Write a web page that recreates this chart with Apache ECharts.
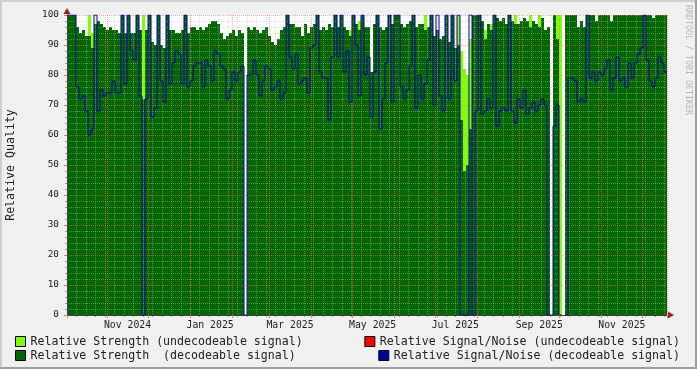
<!DOCTYPE html>
<html><head><meta charset="utf-8">
<script src="https://cdn.jsdelivr.net/npm/echarts@6/dist/echarts.min.js"></script>
<style>html,body{margin:0;padding:0;background:#F0F0F0}#c{width:697px;height:369px}</style>
</head><body><div id="c"></div>
<script>
// time span of the plot (start, length in days) and column count
const START = Date.UTC(2024, 9, 2, 8);
const SPAN_DAYS = 443;
const NCOL = 200;
const MONTHS = ['Jan','Feb','Mar','Apr','May','Jun','Jul','Aug','Sep','Oct','Nov','Dec'];
const LABEL_MONTHS = [0, 2, 4, 6, 8, 10];

// Relative Strength (decodeable signal)
const strengthDec = [100,100,100,96,94,95,93,93,89,97,98,97,96,95,96,95,95,94,100,94,
100,94,94,100,95,72,95,100,91,90,100,90,89,100,95,95,94,94,95,100,
94,96,96,95,96,95,96,97,98,98,97,94,92,93,94,95,93,95,94,null,
96,95,96,95,94,95,96,93,91,90,92,95,96,100,97,97,96,96,93,97,
94,96,97,100,95,96,95,97,96,100,96,100,96,95,93,100,97,95,100,96,
96,81,97,100,96,95,96,100,97,100,100,97,96,97,98,100,96,97,97,95,
96,100,93,95,92,93,100,91,100,89,90,65,48,50,62,100,100,100,98,92,
97,95,100,99,98,99,97,100,98,97,97,98,99,98,96,98,97,96,99,95,
96,null,100,92,null,null,100,100,100,100,96,98,96,100,100,100,98,100,100,100,
100,98,100,100,100,100,100,100,100,100,100,100,100,100,100,99,100,100,100,100];

// Relative Strength (undecodeable signal)
const strengthUndec = [null,null,null,null,null,null,null,100,94,null,null,null,null,null,null,null,null,null,null,null,
null,null,null,null,null,100,null,null,null,null,null,null,null,null,null,null,null,null,null,null,
null,null,null,null,null,null,null,null,null,null,null,null,null,null,null,null,null,null,null,null,
null,null,null,null,null,null,null,null,null,null,null,null,null,null,null,null,null,null,null,null,
null,null,null,null,null,null,null,null,null,null,null,null,null,null,95,null,null,98,null,null,
null,null,null,null,null,null,null,null,null,null,null,null,null,null,null,null,null,null,null,100,
null,null,null,null,null,null,null,null,null,null,100,88,82,80,92,null,null,null,null,95,
null,97,null,null,null,null,null,null,null,100,null,null,null,null,100,null,null,100,null,null,
null,null,null,100,100,null,null,null,null,null,null,null,null,null,null,null,null,null,null,null,
null,null,null,null,null,null,null,null,null,null,null,null,null,null,null,null,null,null,null,null];

// Relative Signal/Noise (decodeable signal)
const snrDec = [100,100,100,76,72,73,68,60,62,100,68,75,73,74,74,78,74,74,100,77,
100,88,85,100,73,0,72,100,66,69,100,78,71,100,77,84,88,87,77,100,
76,78,83,84,84,76,85,83,78,88,87,83,82,72,75,81,78,81,83,0,
80,80,85,80,73,78,83,82,75,76,78,72,74,100,86,82,87,77,78,79,
74,89,90,100,81,79,79,65,86,100,86,100,81,88,71,100,90,73,100,80,
86,66,81,100,62,72,84,100,71,100,100,76,72,75,83,100,69,80,72,77,
85,100,70,100,73,68,100,72,100,78,100,0,0,0,100,0,68,100,67,68,
72,69,100,63,68,69,68,100,68,64,72,69,75,67,69,71,68,70,72,70,
0,0,63,70,0,null,0,79,79,78,71,72,71,100,79,81,78,81,80,82,
85,75,79,86,78,79,76,84,79,84,87,89,100,85,78,76,79,86,84,81];

// Relative Signal/Noise (undecodeable signal): no visible values
const snrUndec = [];

const DAY = 86400000;
const END = START + SPAN_DAYS * DAY;
const colMs = (END - START) / NCOL;
// each consolidated value covers its whole time column: give it the column's start and end times
const column = arr => arr.flatMap((v, i) => [[START + i * colMs, v], [START + (i + 1) * colMs, v]]);

const FONT = 'DejaVu Sans Mono';
const MINOR = 'rgba(192,192,192,0.45)';
const MAJOR = 'rgba(255,110,110,0.55)';

const chart = echarts.init(document.getElementById('c'), null, {renderer: 'canvas'});
chart.setOption({
  animation: false,
  backgroundColor: '#F0F0F0',
  grid: {left: 67, right: 30, top: 15, bottom: 54, show: true, backgroundColor: '#ffffff', borderWidth: 0,
    containLabel: false, outerBoundsMode: 'none'},
  xAxis: [
    { // data axis
      type: 'time', position: 'bottom', min: START, max: END, splitNumber: 14, z: 5,
      axisLine: {show: true, lineStyle: {color: '#404040', width: 1}},
      axisTick: {show: true, length: 3, lineStyle: {color: '#d08080'}},
      axisLabel: {show: false},
      splitLine: {show: true, lineStyle: {color: MAJOR, type: [1, 1], width: 1}}
    },
    { // month label axis (labels centred half a month after the tick)
      type: 'time', position: 'bottom', min: START - 15 * DAY, max: END - 15 * DAY, splitNumber: 14,
      axisLine: {show: false}, axisTick: {show: false}, splitLine: {show: false},
      axisLabel: {
        show: true, margin: 5, fontFamily: FONT, fontSize: 9.8, color: '#222',
        hideOverlap: false,
        formatter: v => {
          const d = new Date(v);
          if (d.getUTCDate() !== 1 || d.getUTCHours() !== 0) return '';
          const m = d.getUTCMonth();
          return LABEL_MONTHS.indexOf(m) >= 0 ? MONTHS[m] + ' ' + d.getUTCFullYear() : '';
        }
      }
    },
    { // weekly minor grid
      type: 'value', position: 'bottom', min: START, max: END, interval: 7 * DAY, z: 4,
      axisLine: {show: false}, axisLabel: {show: false},
      axisTick: {show: true, length: 2, lineStyle: {color: '#a0a0a0'}},
      splitLine: {show: true, lineStyle: {color: MINOR, type: [1, 1], width: 1}}
    },
    { // arrow on the x axis
      type: 'value', position: 'bottom', min: 0, max: 1, axisLabel: {show: false}, axisTick: {show: false}, splitLine: {show: false},
      axisLine: {show: true, symbol: ['none', 'triangle'], symbolSize: [7, 6], symbolOffset: [0, 4],
        lineStyle: {color: '#a02020', width: 0}}
    }
  ],
  yAxis: [
    {
      type: 'value', min: 0, max: 100, interval: 10, z: 5,
      name: 'Relative Quality', nameLocation: 'middle', nameGap: 50, nameRotate: 90,
      nameTextStyle: {fontFamily: FONT, fontSize: 11.6, color: '#222'},
      axisLine: {show: true, lineStyle: {color: '#404040'}},
      axisTick: {show: true, length: 3, lineStyle: {color: '#d08080'}},
      minorTick: {show: true, splitNumber: 5, length: 2, lineStyle: {color: '#a0a0a0'}},
      axisLabel: {fontFamily: FONT, fontSize: 9.4, color: '#222', margin: 8},
      splitLine: {show: true, lineStyle: {color: MAJOR, type: [1, 1]}},
      minorSplitLine: {show: true, lineStyle: {color: MINOR, type: [1, 1]}}
    },
    { // arrow on the y axis
      type: 'value', min: 0, max: 1, position: 'left', axisLabel: {show: false}, axisTick: {show: false}, splitLine: {show: false},
      axisLine: {show: true, symbol: ['none', 'triangle'], symbolSize: [7, 6], symbolOffset: [0, 4],
        lineStyle: {color: '#a02020', width: 0}}
    }
  ],
  legend: [
    {left: 15, top: 335, orient: 'vertical', padding: 0, itemGap: 1, itemWidth: 10, itemHeight: 10, icon: 'rect',
      textStyle: {fontFamily: FONT, fontSize: 11.6, color: '#222', lineHeight: 13},
      data: [
        {name: 'Relative Strength (undecodeable signal)', itemStyle: {borderColor: '#000', borderWidth: 1}},
        {name: 'Relative Strength  (decodeable signal)', itemStyle: {borderColor: '#000', borderWidth: 1}}
      ]},
    {right: 17, top: 335, orient: 'vertical', padding: 0, itemWidth: 10, itemHeight: 10, icon: 'rect',
      textStyle: {fontFamily: FONT, fontSize: 11.6, color: '#222', lineHeight: 13},
      data: [{name: 'Relative Signal/Noise (undecodeable signal)', itemStyle: {color: '#ff0000', borderColor: '#000', borderWidth: 1}}]},
    {right: 17, top: 349, orient: 'vertical', padding: 0, itemWidth: 10, itemHeight: 10, icon: 'rect',
      textStyle: {fontFamily: FONT, fontSize: 11.6, color: '#222', lineHeight: 13},
      data: [{name: 'Relative Signal/Noise (decodeable signal)', itemStyle: {color: '#000099', borderColor: '#000', borderWidth: 1}}]}
  ],
  graphic: [
    {type: 'text', x: 688, y: 5, rotation: -Math.PI / 2,
      style: {text: 'RRDTOOL / TOBI OETIKER', font: '8.3px "DejaVu Sans Mono"', fill: '#b8b8b8', textVerticalAlign: 'middle', textAlign: 'left'}},
    {type: 'rect', shape: {x: 0, y: 0, width: 697, height: 2}, style: {fill: '#CFCFCF'}, silent: true},
    {type: 'rect', shape: {x: 0, y: 0, width: 2, height: 369}, style: {fill: '#CFCFCF'}, silent: true},
    {type: 'rect', shape: {x: 0, y: 367, width: 697, height: 2}, style: {fill: '#9E9E9E'}, silent: true},
    {type: 'rect', shape: {x: 695, y: 0, width: 2, height: 369}, style: {fill: '#9E9E9E'}, silent: true}
  ],
  series: [
    {name: 'Relative Strength (undecodeable signal)', type: 'line', xAxisIndex: 0, yAxisIndex: 0,
      showSymbol: false, connectNulls: false, z: 2,
      itemStyle: {color: '#80ff00'}, lineStyle: {width: 0, color: '#80ff00'},
      areaStyle: {color: '#80ff00', opacity: 1}, data: column(strengthUndec)},
    {name: 'Relative Strength  (decodeable signal)', type: 'line', xAxisIndex: 0, yAxisIndex: 0,
      showSymbol: false, connectNulls: false, z: 3,
      itemStyle: {color: '#006600'}, lineStyle: {width: 0, color: '#006600'},
      areaStyle: {color: '#006600', opacity: 1}, data: column(strengthDec)},
    {name: 'Relative Signal/Noise (undecodeable signal)', type: 'line', xAxisIndex: 0, yAxisIndex: 0,
      itemStyle: {color: '#ff0000'}, lineStyle: {color: '#ff0000', width: 1}, showSymbol: false, data: snrUndec},
    {name: 'Relative Signal/Noise (decodeable signal)', type: 'line', xAxisIndex: 0, yAxisIndex: 0,
      showSymbol: false, connectNulls: false, z: 6,
      itemStyle: {color: '#000099'}, lineStyle: {color: '#000099', width: 1}, data: column(snrDec)}
  ]
});
</script></body></html>
